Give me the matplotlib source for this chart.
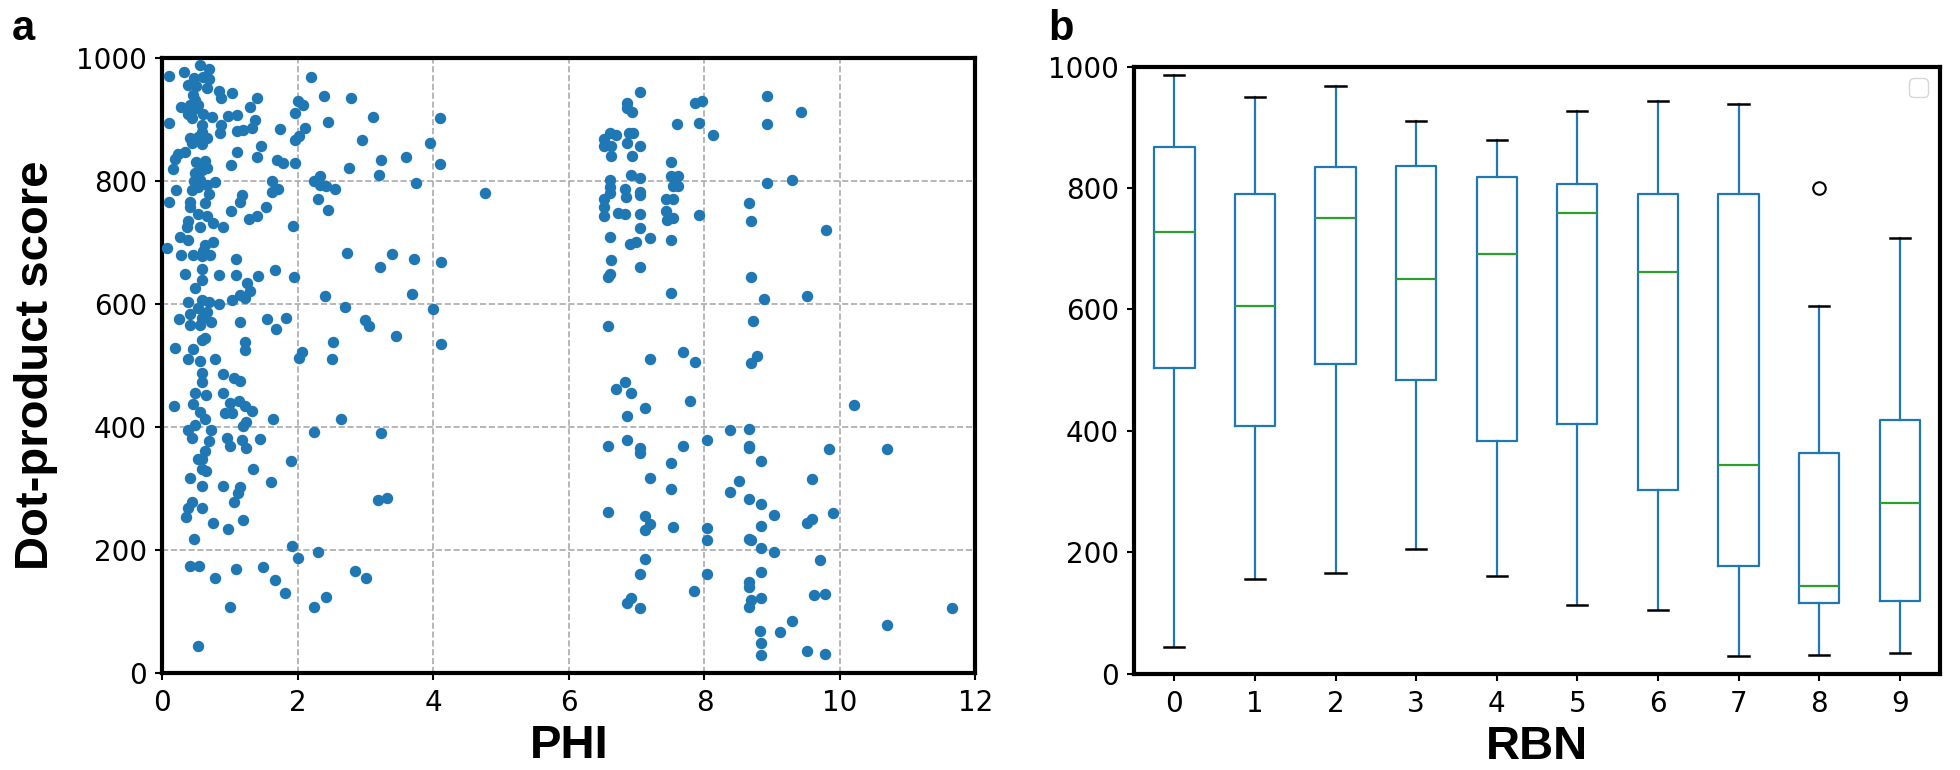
import matplotlib
matplotlib.use("Agg")
import matplotlib.pyplot as plt
import numpy as np

# ---------------- data: panel a (PHI vs dot-product score) ----------------
phi_low = [0.10,0.32,0.56,0.68,0.46,0.60,0.68,0.38,0.50,0.65,0.84,1.02,1.39,0.87,0.45,0.48,0.41,0.53,1.29,0.27,
           0.37,0.46,0.60,0.73,0.43,0.97,1.10,1.37,0.10,0.59,0.87,1.32,1.73,1.10,1.19,0.85,0.58,0.41,0.53,0.65,
           0.43,0.58,1.46,1.10,0.33,0.23,0.18,1.40,1.69,1.78,0.50,0.63,1.01,0.16,0.58,0.65,0.48,0.46,0.55,0.78,
           1.61,0.20,0.43,0.53,0.65,1.61,1.71,0.10,0.41,0.63,0.68,1.18,1.14,1.53,0.41,0.53,0.65,1.01,1.40,1.27,
           0.38,0.36,0.55,0.75,0.90,0.26,0.38,0.06,0.63,0.75,0.60,0.70,0.27,0.45,0.58,1.09,1.66,0.59,0.33,0.84,
           1.09,0.58,1.25,1.41,0.48,1.29,1.22,1.15,1.02,0.38,0.58,0.68,0.84,0.53,0.40,0.65,0.58,0.25,1.15,0.72,
           0.41,0.55,1.55,1.68,1.83,0.58,0.63,1.22,1.22,0.18,0.45,0.38,0.55,0.77,
           0.59,0.59,0.90,1.05,1.14,0.17,0.45,0.48,0.64,0.90,0.55,0.63,1.00,1.13,1.22,1.32,0.92,1.02,1.63,1.23,
           1.19,0.48,0.38,0.71,0.43,0.68,0.95,1.17,1.44,1.00,1.23,0.63,0.53,0.59,0.58,0.64,1.34,0.40,0.58,0.90,
           1.15,1.60,1.12,1.06,0.43,0.38,0.59,0.35,0.75,1.19,0.97,0.46,0.40,0.54,0.77,1.08,1.48,1.66,1.81,0.99,0.52]
score_low = [971,976,988,982,967,968,966,956,954,951,946,943,935,935,939,931,923,923,920,919,
             909,917,909,904,902,905,906,899,893,891,891,886,884,880,882,877,879,869,871,870,
             861,859,856,847,846,843,836,839,834,828,831,832,826,819,817,820,812,799,801,798,
             799,785,785,790,793,782,786,766,766,763,779,777,766,758,758,745,742,750,743,738,
             734,725,725,731,725,709,704,690,695,700,685,679,679,679,677,673,655,657,649,647,
             647,639,633,645,625,620,609,614,606,602,606,603,600,593,584,587,576,575,571,571,
             565,565,575,559,576,541,544,537,525,528,527,510,507,510,
             487,473,486,479,475,433,437,454,452,454,424,413,438,441,433,426,423,423,413,408,
             401,403,394,394,381,376,381,379,380,369,365,361,347,347,331,328,331,316,304,304,
             302,310,292,278,277,268,267,253,243,249,233,217,174,174,154,169,172,151,130,107,44]

phi_mid = [2.19,2.00,2.07,2.38,2.78,1.96,2.10,2.44,3.10,4.10,2.02,1.96,2.95,3.95,1.95,2.75,3.22,3.19,3.60,4.09,
           2.23,2.33,2.32,2.41,2.55,3.74,2.29,2.45,1.92,2.72,3.39,3.21,3.71,4.11,1.94,2.40,3.68,2.70,3.99,2.99,
           3.05,3.44,4.11,2.52,2.06,2.01,2.50,
           2.64,2.23,3.23,1.90,3.18,3.31,1.91,2.30,2.00,2.84,3.00,2.41,2.23,4.76]
score_mid = [968,930,923,937,935,910,886,895,903,902,872,866,866,861,829,821,834,810,838,827,
             800,808,793,792,786,796,770,752,726,682,681,659,672,668,644,612,616,594,592,574,
             563,548,534,537,521,511,510,
             412,392,389,344,280,284,206,196,186,166,154,123,107,780]

phi_high = [7.05,6.85,6.86,6.93,7.86,7.96,7.59,7.92,8.13,6.61,6.70,6.88,6.94,6.52,6.85,7.05,6.52,6.62,6.62,6.93,
            7.51,6.92,7.05,7.51,7.61,6.61,6.61,6.83,7.53,7.61,6.61,7.05,7.05,6.84,6.52,7.43,7.54,6.52,6.51,6.73,
            6.83,7.05,7.43,7.44,7.53,7.92,6.61,7.05,7.19,6.90,6.99,7.51,6.62,7.05,6.57,6.61,7.51,6.57,7.19,7.69,7.86,
            6.83,6.69,6.91,7.78,7.12,6.86,8.37,6.85,6.57,7.05,7.05,7.69,8.03,7.51,7.19,7.51,6.57,7.12,7.19,7.12,
            7.53,8.03,8.03,7.12,7.05,8.03,7.85,6.85,6.91,7.05,
            8.93,9.43,8.93,8.93,9.29,8.66,8.68,9.80,8.68,8.88,9.52,8.71,8.78,8.68,
            10.21,8.66,8.66,8.66,9.84,10.70,8.84,8.51,8.38,9.58,8.66,8.84,9.03,8.84,9.89,9.52,9.58,8.66,8.68,8.84,
            9.03,9.70,8.84,8.66,8.66,8.68,8.66,8.84,9.61,9.78,9.29,10.70,11.65,8.82,9.12,8.84,8.84,9.52,9.78]
score_high = [944,927,918,911,926,929,892,893,875,878,874,877,878,867,861,857,857,857,840,840,
              831,809,804,807,807,801,790,786,791,791,780,782,777,774,770,770,770,758,743,748,
              745,745,751,736,739,744,709,723,707,697,701,704,671,660,643,648,618,563,510,522,505,
              472,461,454,442,431,417,395,379,369,366,357,369,378,341,317,299,262,254,241,232,
              237,236,216,185,161,161,133,114,121,105,
              938,911,892,797,801,763,734,719,644,607,612,572,515,503,
              436,397,369,365,363,363,344,312,293,315,283,274,256,239,260,244,250,218,215,202,
              196,183,163,148,140,118,107,122,126,128,84,78,105,67,66,48,29,35,31]

# ---------------- data: panel b (box statistics per RBN) ----------------
rbn = [0, 1, 2, 3, 4, 5, 6, 7, 8, 9]
box_whislo = [44, 155, 166, 205, 160, 113, 104, 29, 31, 34]
box_q1     = [503, 408, 510, 484, 383, 411, 302, 178, 117, 120]
box_med    = [727, 605, 750, 650, 692, 759, 661, 343, 145, 281]
box_q3     = [868, 790, 834, 837, 818, 806, 790, 791, 364, 417]
box_whishi = [987, 950, 968, 910, 879, 927, 944, 938, 606, 718]
box_fliers = [[], [], [], [], [], [], [], [], [800], []]

# ---------------- figure ----------------
fig = plt.figure(figsize=(19.6, 7.7), dpi=100)
label_font = dict(family=["Liberation Sans", "DejaVu Sans"], weight="bold", size=34)
tick_size = 20
blue = "#1f77b4"

# Panel a
ax1 = fig.add_axes([0.0829, 0.1264, 0.4148, 0.7987])
ax1.scatter(phi_low, score_low, s=52, color=blue, zorder=3)
ax1.scatter(phi_mid, score_mid, s=52, color=blue, zorder=3)
ax1.scatter(phi_high, score_high, s=52, color=blue, zorder=3)
ax1.set_xlim(0, 12)
ax1.set_ylim(0, 1000)
ax1.set_xticks(range(0, 13, 2))
ax1.set_yticks(range(0, 1001, 200))
ax1.grid(True, linestyle="--", color="#aaaaaa", linewidth=1.2)
ax1.set_axisbelow(True)
ax1.set_xlabel("PHI", fontdict=label_font)
ax1.xaxis.set_label_coords(0.5, -0.083)
ax1.set_ylabel("Dot-product score", fontdict=label_font)
ax1.yaxis.set_label_coords(-0.128, 0.5)

# Panel b
ax2 = fig.add_axes([0.5786, 0.1253, 0.4112, 0.7881])
stats = []
for i in range(len(rbn)):
    stats.append(dict(whislo=box_whislo[i], q1=box_q1[i], med=box_med[i],
                      q3=box_q3[i], whishi=box_whishi[i], fliers=box_fliers[i]))
ax2.bxp(stats, positions=rbn, widths=0.5,
        boxprops=dict(color=blue, linewidth=1.6),
        whiskerprops=dict(color=blue, linewidth=1.6),
        capprops=dict(color="black", linewidth=1.8),
        medianprops=dict(color="#2ca02c", linewidth=1.6),
        flierprops=dict(marker="o", markerfacecolor="none", markeredgecolor="black",
                        markersize=9, markeredgewidth=1.5))
ax2.set_xlim(-0.5, 9.5)
ax2.set_ylim(0, 1000)
ax2.set_xticks(rbn)
ax2.set_xticklabels([str(r) for r in rbn])
ax2.set_yticks(range(0, 1001, 200))
ax2.set_xlabel("RBN", fontdict=label_font)
ax2.xaxis.set_label_coords(0.5, -0.085)
ax2.legend(handles=[], loc="upper right", fontsize=17)

for ax in (ax1, ax2):
    for sp in ax.spines.values():
        sp.set_linewidth(3)
        sp.set_color("black")
    ax.tick_params(axis="both", labelsize=tick_size, width=1.5, length=5)
    ax.tick_params(axis="y", pad=6)
    ax.tick_params(axis="x", pad=7)

fig.text(0.006, 0.962, "a", fontdict=dict(family=["Liberation Sans", "DejaVu Sans"],
                                         weight="bold", size=30), va="center")
fig.text(0.535, 0.962, "b", fontdict=dict(family=["Liberation Sans", "DejaVu Sans"],
                                         weight="bold", size=30), va="center")

fig.savefig("out.png", dpi=100)
